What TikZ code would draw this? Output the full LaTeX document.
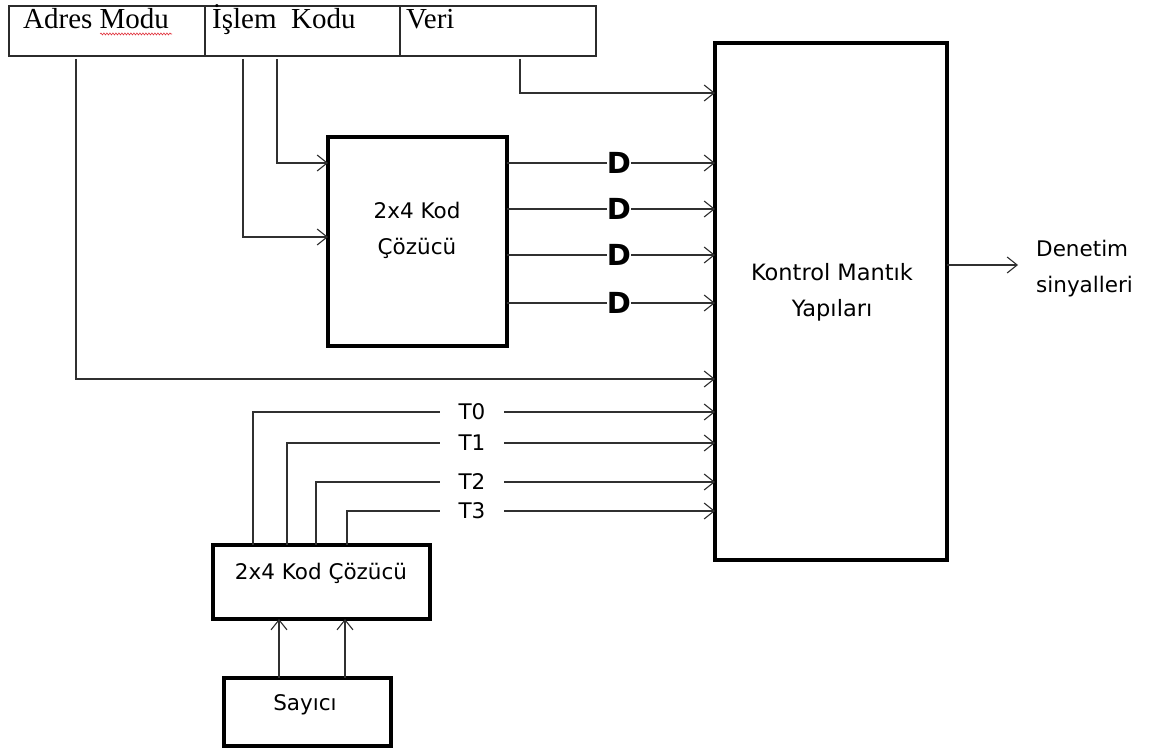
\documentclass[tikz,border=0pt]{standalone}
\usepackage{fontspec}
\usepackage{xcolor}
\usepackage{tikz}
\usetikzlibrary{arrows.meta,positioning,decorations.pathmorphing}
\newfontfamily\diagfont{DejaVu Sans}
\newfontfamily\fieldfont{Liberation Serif}
\newfontfamily\gatefont{DejaVu Sans}
\definecolor{frame}{HTML}{2B2B2B}
\definecolor{wire}{HTML}{303030}
\definecolor{squig}{HTML}{E0303A}

\begin{document}
\begin{tikzpicture}[
   x=1pt,y=-1pt,
   font=\diagfont\fontsize{21.5}{36}\selectfont,
   blk/.style  ={draw=black,line width=4.8pt,outer sep=0pt,inner sep=0pt},
   field/.style={draw=frame,line width=1.4pt,outer sep=0pt,minimum height=50pt},
   ftxt/.style ={font=\fieldfont\fontsize{29}{30}\selectfont,anchor=base west,inner sep=0pt},
   lbl/.style  ={align=center,inner sep=0pt},
   gate/.style ={font=\gatefont\bfseries\fontsize{29}{30}\selectfont,inner sep=0pt},
   tl/.style   ={minimum width=64pt,inner sep=0pt},
   ln/.style   ={draw=wire,line width=1.1pt},
   fl/.style   ={-{Straight Barb[length=10pt,width=16pt]},draw=wire,line width=1.1pt},
   spell/.style={draw=squig,line width=0.6pt,decorate,decoration={snake,amplitude=1pt,segment length=3pt}}
  ]
  \useasboundingbox (0,0) rectangle (1160,751);

  % instruction word
  \node[field,minimum width=196pt] (adres) at (107,31) {};
  \node[field,minimum width=195pt] (islem) at (302.5,31) {};
  \node[field,minimum width=196pt] (veri) at (498,31) {};
  \node[ftxt] (adrest) at (23,29) {Adres Modu};
  \node[ftxt] (islemt) at (212,29) {İşlem\ \ Kodu};
  \node[ftxt] (verit) at (406,29) {Veri};
  \draw[spell] (100,34) -- (172,34);

  % blocks
  \node[blk,minimum width=232pt,minimum height=517pt] (kontrol) at (831,301.5) {};
  \node[blk,minimum width=179pt,minimum height=209pt] (dec) at (417.5,241.5) {};
  \node[blk,minimum width=217pt,minimum height=74pt] (dec2) at (321.5,582) {};
  \node[blk,minimum width=167pt,minimum height=68pt] (say) at (307.5,712) {};
  \node[lbl,font=\diagfont\fontsize{22.5}{36}\selectfont] (kontrolt) at (832,292) {Kontrol Mantık\\Yapıları};
  \node[lbl] (dect) at (417,230) {2x4 Kod\\Çözücü};
  \node[lbl] (dec2t) at (321,573) {2x4 Kod Çözücü};
  \node[lbl] (sayt) at (305,705) {Sayıcı};
  \node[lbl,align=left,anchor=west] (denetim) at (1036,269) {Denetim\\sinyalleri};

  % fields to blocks
  \coordinate (am) at (76,59);
  \coordinate (ik1) at (277,59);
  \coordinate (ik2) at (243,59);
  \coordinate (vo) at (520,59);
  \draw[fl] (vo) |- (kontrol.west |- 0,93);
  \draw[fl] (ik1) |- (dec.west |- 0,163);
  \draw[fl] (ik2) |- (dec.west |- 0,237);
  \draw[fl] (am) |- (kontrol.west |- 0,379);

  % decoder outputs
  \foreach \y [count=\i from 0] in {163,209,255,303}{
    \node[gate] (g\i) at (619,\y) {D};
    \draw[ln] (dec.east |- g\i) -- (g\i.west);
    \draw[fl] (g\i.east) -- (kontrol.west |- g\i);
  }

  % timing signals
  \foreach \y/\x [count=\i from 0] in {412/253,443/287,482/316,511/347}{
    \node[tl] (t\i) at (472,\y) {T\i};
    \draw[ln] (dec2.north -| \x,0) |- (t\i.west);
    \draw[fl] (t\i.east) -- (kontrol.west |- t\i);
  }

  % counter
  \draw[fl] (say.north -| 279,0) -- (dec2.south -| 279,0);
  \draw[fl] (say.north -| 345,0) -- (dec2.south -| 345,0);

  % output
  \coordinate (out) at (1018,265);
  \draw[fl] (kontrol.east |- out) -- (out);
\end{tikzpicture}
\end{document}
